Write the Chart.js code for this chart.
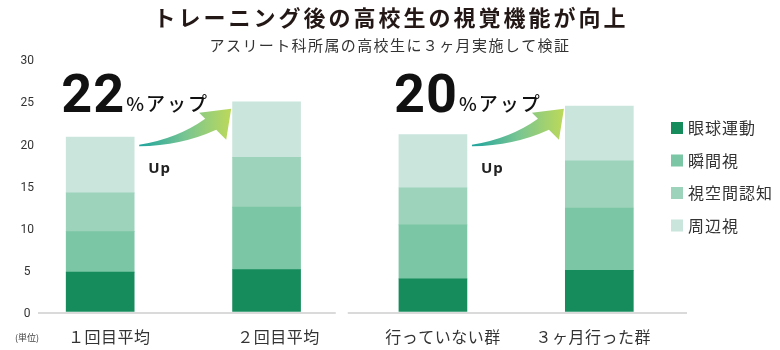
<!DOCTYPE html>
<html lang="ja">
<head>
<meta charset="utf-8">
<title>トレーニング後の高校生の視覚機能が向上</title>
<script src="https://cdn.jsdelivr.net/npm/chart.js@4"></script>
<style>
  html, body { margin: 0; padding: 0; background: #fff; }
  #wrap { position: relative; width: 780px; height: 350px; }
</style>
</head>
<body>
<div id="wrap"><canvas id="visionChart" width="780" height="350"></canvas></div>
<script>
// Groups on the x axis
const groups = ['１回目平均', '２回目平均', '行っていない群', '３ヶ月行った群'];

// Stacked scores per group, bottom to top
const eyeMovement = [4.7, 5.0, 3.9, 4.9];       // 眼球運動
const instantVision = [4.8, 7.4, 6.4, 7.4];     // 瞬間視
const spatialCognition = [4.6, 5.9, 4.4, 5.6];  // 視空間認知
const peripheralVision = [6.6, 6.6, 6.3, 6.5];  // 周辺視

const seriesNames = ['眼球運動', '瞬間視', '視空間認知', '周辺視'];
const seriesColors = ['#168c5c', '#7bc6a4', '#9ed3bb', '#c9e5dc'];

const yTicks = [0, 5, 10, 15, 20, 25, 30];

// "xx%アップ" callouts: the bar they start from and the rate
const upFrom = [0, 2];
const upRates = ['22', '20'];

const titleText = 'トレーニング後の高校生の視覚機能が向上';
const subtitleText = 'アスリート科所属の高校生に３ヶ月実施して検証';

// small horizontal nudge for each group label (px)
const labelNudge = [9, 12, 10, -6];

const JP = '"Noto Sans CJK JP", "Noto Sans", sans-serif';

// curved gradient arrow, (x0, y0) is the tail point
function drawArrow(ctx, x0, y0) {
    const g = ctx.createLinearGradient(x0, 0, x0 + 92, 0);
    g.addColorStop(0, '#1fa49d');
    g.addColorStop(0.5, '#78c592');
    g.addColorStop(1, '#bcd959');
    ctx.fillStyle = g;
    ctx.beginPath();
    ctx.moveTo(x0, y0);
    ctx.quadraticCurveTo(x0 + 38, y0 - 6, x0 + 66, y0 - 26);
    ctx.lineTo(x0 + 60, y0 - 32);
    ctx.lineTo(x0 + 92, y0 - 36);
    ctx.lineTo(x0 + 87, y0 - 5);
    ctx.lineTo(x0 + 77, y0 - 15);
    ctx.quadraticCurveTo(x0 + 42, y0 + 1, x0, y0 + 1.5);
    ctx.closePath();
    ctx.fill();
}

const decorPlugin = {
    id: 'decor',
    beforeDatasetsDraw(chart) {
        const { ctx, chartArea, scales: { x, y } } = chart;
        // split baseline, one piece per pair of bars
        const y0 = y.getPixelForValue(0) + 1.2;
        const mid = (x.getPixelForValue(1) + x.getPixelForValue(2)) / 2;
        ctx.save();
        ctx.strokeStyle = '#dadada';
        ctx.lineWidth = 2;
        ctx.beginPath();
        ctx.moveTo(chartArea.left + 21, y0);
        ctx.lineTo(mid - 14, y0);
        ctx.moveTo(mid - 2, y0);
        ctx.lineTo(chartArea.right + 4.5, y0);
        ctx.stroke();
        ctx.restore();
    },
    afterDraw(chart) {
        const { ctx, scales: { x, y } } = chart;
        ctx.save();

        // title and subtitle
        ctx.textAlign = 'center';
        ctx.textBaseline = 'middle';
        ctx.fillStyle = '#231815';
        ctx.font = `bold 22px ${JP}`;
        ctx.letterSpacing = '3px';
        ctx.fillText(titleText, 391, 18);
        ctx.fillStyle = '#333';
        ctx.font = `15px ${JP}`;
        ctx.letterSpacing = '1.4px';
        ctx.fillText(subtitleText, 390, 45);

        // group labels under the bars
        ctx.font = `16px ${JP}`;
        ctx.letterSpacing = '0.5px';
        ctx.fillStyle = '#333';
        chart.data.labels.forEach((lbl, i) => {
            ctx.fillText(lbl, x.getPixelForValue(i) + labelNudge[i], 337);
        });

        // unit note under the y axis
        ctx.letterSpacing = '0px';
        ctx.textAlign = 'left';
        ctx.font = `9px ${JP}`;
        ctx.fillStyle = '#444';
        ctx.fillText('(単位)', 15, 338);

        // callouts
        upFrom.forEach((idx, k) => {
            const cx = x.getPixelForValue(idx);
            const numX = cx - 39;
            const numY = y.getPixelForValue(23.7);
            ctx.textBaseline = 'alphabetic';
            ctx.fillStyle = '#111';
            ctx.font = 'bold 54px Roboto, "Noto Sans", sans-serif';
            ctx.letterSpacing = '1px';
            ctx.fillText(upRates[k], numX, numY);
            const w = ctx.measureText(upRates[k]).width;
            ctx.font = `500 19px ${JP}`;
            ctx.letterSpacing = '2px';
            ctx.fillText('%アップ', numX + w + 1, numY - 1);

            ctx.font = 'bold 15px "Noto Sans", sans-serif';
            ctx.letterSpacing = '1px';
            ctx.fillStyle = '#222';
            ctx.fillText('Up', cx + 48, y.getPixelForValue(16.45));

            drawArrow(ctx, cx + 39, y.getPixelForValue(19.8));
        });

        // legend, top item is the bottom segment
        ctx.letterSpacing = '1px';
        ctx.textBaseline = 'middle';
        ctx.font = `16px ${JP}`;
        chart.data.datasets.forEach((ds, i) => {
            const ly = 128 + i * 32.5;
            ctx.fillStyle = ds.backgroundColor;
            ctx.fillRect(671, ly - 6, 12, 12);
            ctx.fillStyle = '#333';
            ctx.fillText(ds.label, 688, ly);
        });
        ctx.restore();
    }
};

const seriesData = [eyeMovement, instantVision, spatialCognition, peripheralVision];

new Chart(document.getElementById('visionChart'), {
    type: 'bar',
    data: {
        labels: groups,
        datasets: seriesData.map((d, i) => ({
            label: seriesNames[i],
            data: d,
            backgroundColor: seriesColors[i],
            borderWidth: 0,
            barThickness: 68
        }))
    },
    options: {
        responsive: false,
        animation: false,
        layout: { padding: { left: 17, right: 97.5, top: 58.8, bottom: 0 } },
        plugins: {
            legend: { display: false },
            tooltip: { enabled: false },
            title: { display: false }
        },
        scales: {
            x: {
                stacked: true,
                grid: { display: false, drawTicks: false },
                border: { display: false },
                ticks: { display: false },
                afterFit(s) { s.height = 38.3; }
            },
            y: {
                stacked: true,
                min: 0,
                max: 30,
                grid: { display: false, drawTicks: false },
                border: { display: false },
                afterBuildTicks(s) { s.ticks = yTicks.map(v => ({ value: v })); },
                ticks: {
                    mirror: true,
                    crossAlign: 'center',
                    padding: 3.5,
                    labelOffset: 2.5,
                    color: '#333',
                    font: { family: 'Roboto, "Noto Sans", sans-serif', size: 12 }
                },
                afterFit(s) { s.width = 0; }
            }
        }
    },
    plugins: [decorPlugin]
});
</script>
</body>
</html>
